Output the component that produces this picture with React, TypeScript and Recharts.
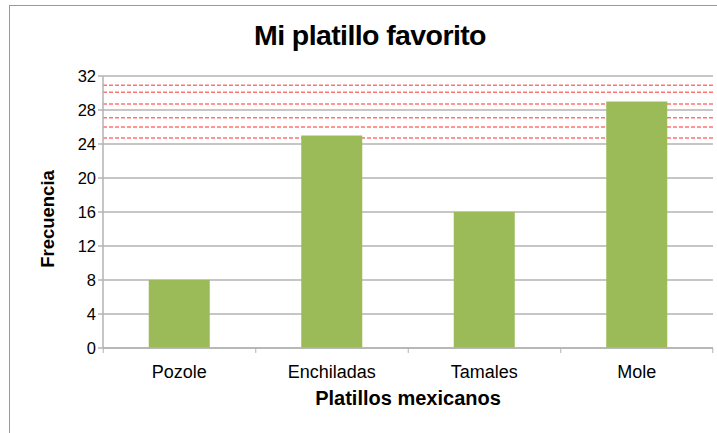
import { BarChart, Bar, XAxis, YAxis, CartesianGrid, ReferenceLine, Label } from "recharts";

const GREEN = "#9bbb59";
const GRID = "#b3b3b3";
const FONT = "'Liberation Sans', Arial, sans-serif";

const platillos = ["Pozole", "Enchiladas", "Tamales", "Mole"];
const frecuencia = [8, 25, 16, 29];
const yTicks = [0, 4, 8, 12, 16, 20, 24, 28, 32];
// red dashed marks across the top of the plot
const redLines = [30.9, 30.1, 28.7, 27.1, 26.0, 24.7];

const data = platillos.map((p, i) => ({ name: p, value: frecuencia[i] }));

/* eslint-disable @typescript-eslint/no-explicit-any */
function CatTick(props: any) {
  const { x, y, payload, index } = props;
  const half = 76;
  return (
    <g>
      <line x1={x - half} x2={x - half} y1={y - 8} y2={y - 3} stroke={GRID} />
      {index === platillos.length - 1 && (
        <line x1={x + half} x2={x + half} y1={y - 8} y2={y - 3} stroke={GRID} />
      )}
      <text x={x} y={y + 22} textAnchor="middle" fontSize={18} fill="#000" fontFamily={FONT}>
        {payload.value}
      </text>
    </g>
  );
}
/* eslint-enable @typescript-eslint/no-explicit-any */

export default function App() {
  return (
    <div style={{ position: "fixed", left: 0, top: 0, width: 717, height: 433, background: "#fff", overflow: "hidden" }}>
      <div style={{ position: "absolute", left: 9, top: 5, width: 720, height: 440, borderLeft: "1px solid #999", borderTop: "1px solid #999" }} />
      <div style={{ position: "absolute", left: 0, top: 19, width: 740, textAlign: "center", fontFamily: FONT, fontWeight: 700, fontSize: 28.5, letterSpacing: -0.6 }}>
        Mi platillo favorito
      </div>
      <div style={{ position: "absolute", left: 0, top: 0 }}>
        <BarChart width={717} height={433} data={data} margin={{ top: 76, right: 4, left: 63, bottom: 55 }} barCategoryGap="30%">
          <CartesianGrid vertical={false} stroke={GRID} strokeWidth={1.5} />
          {redLines.map((v) => (
            <ReferenceLine key={v} y={v} stroke="#ff0000" strokeOpacity={0.55} strokeDasharray="4 2" strokeWidth={1.5} zIndex={100} />
          ))}
          <XAxis dataKey="name" stroke={GRID} strokeWidth={1.5} tickLine={false} tick={<CatTick />} height={30} interval={0}>
            <Label value="Platillos mexicanos" position="insideBottom" offset={-27} style={{ fontFamily: FONT, fontWeight: 700, fontSize: 20, fill: "#000" }} />
          </XAxis>
          <YAxis domain={[0, 32]} ticks={yTicks} width={40} stroke={GRID} strokeWidth={1.5} tickSize={5} tick={{ fontSize: 16.5, fill: "#000", fontFamily: FONT }} interval={0}>
            <Label value="Frecuencia" angle={-90} position="insideLeft" offset={-16} dy={7} style={{ fontFamily: FONT, fontWeight: 700, fontSize: 18.5, fill: "#000", textAnchor: "middle" }} />
          </YAxis>
          <Bar dataKey="value" fill={GREEN} isAnimationActive={false} />
        </BarChart>
      </div>
    </div>
  );
}
